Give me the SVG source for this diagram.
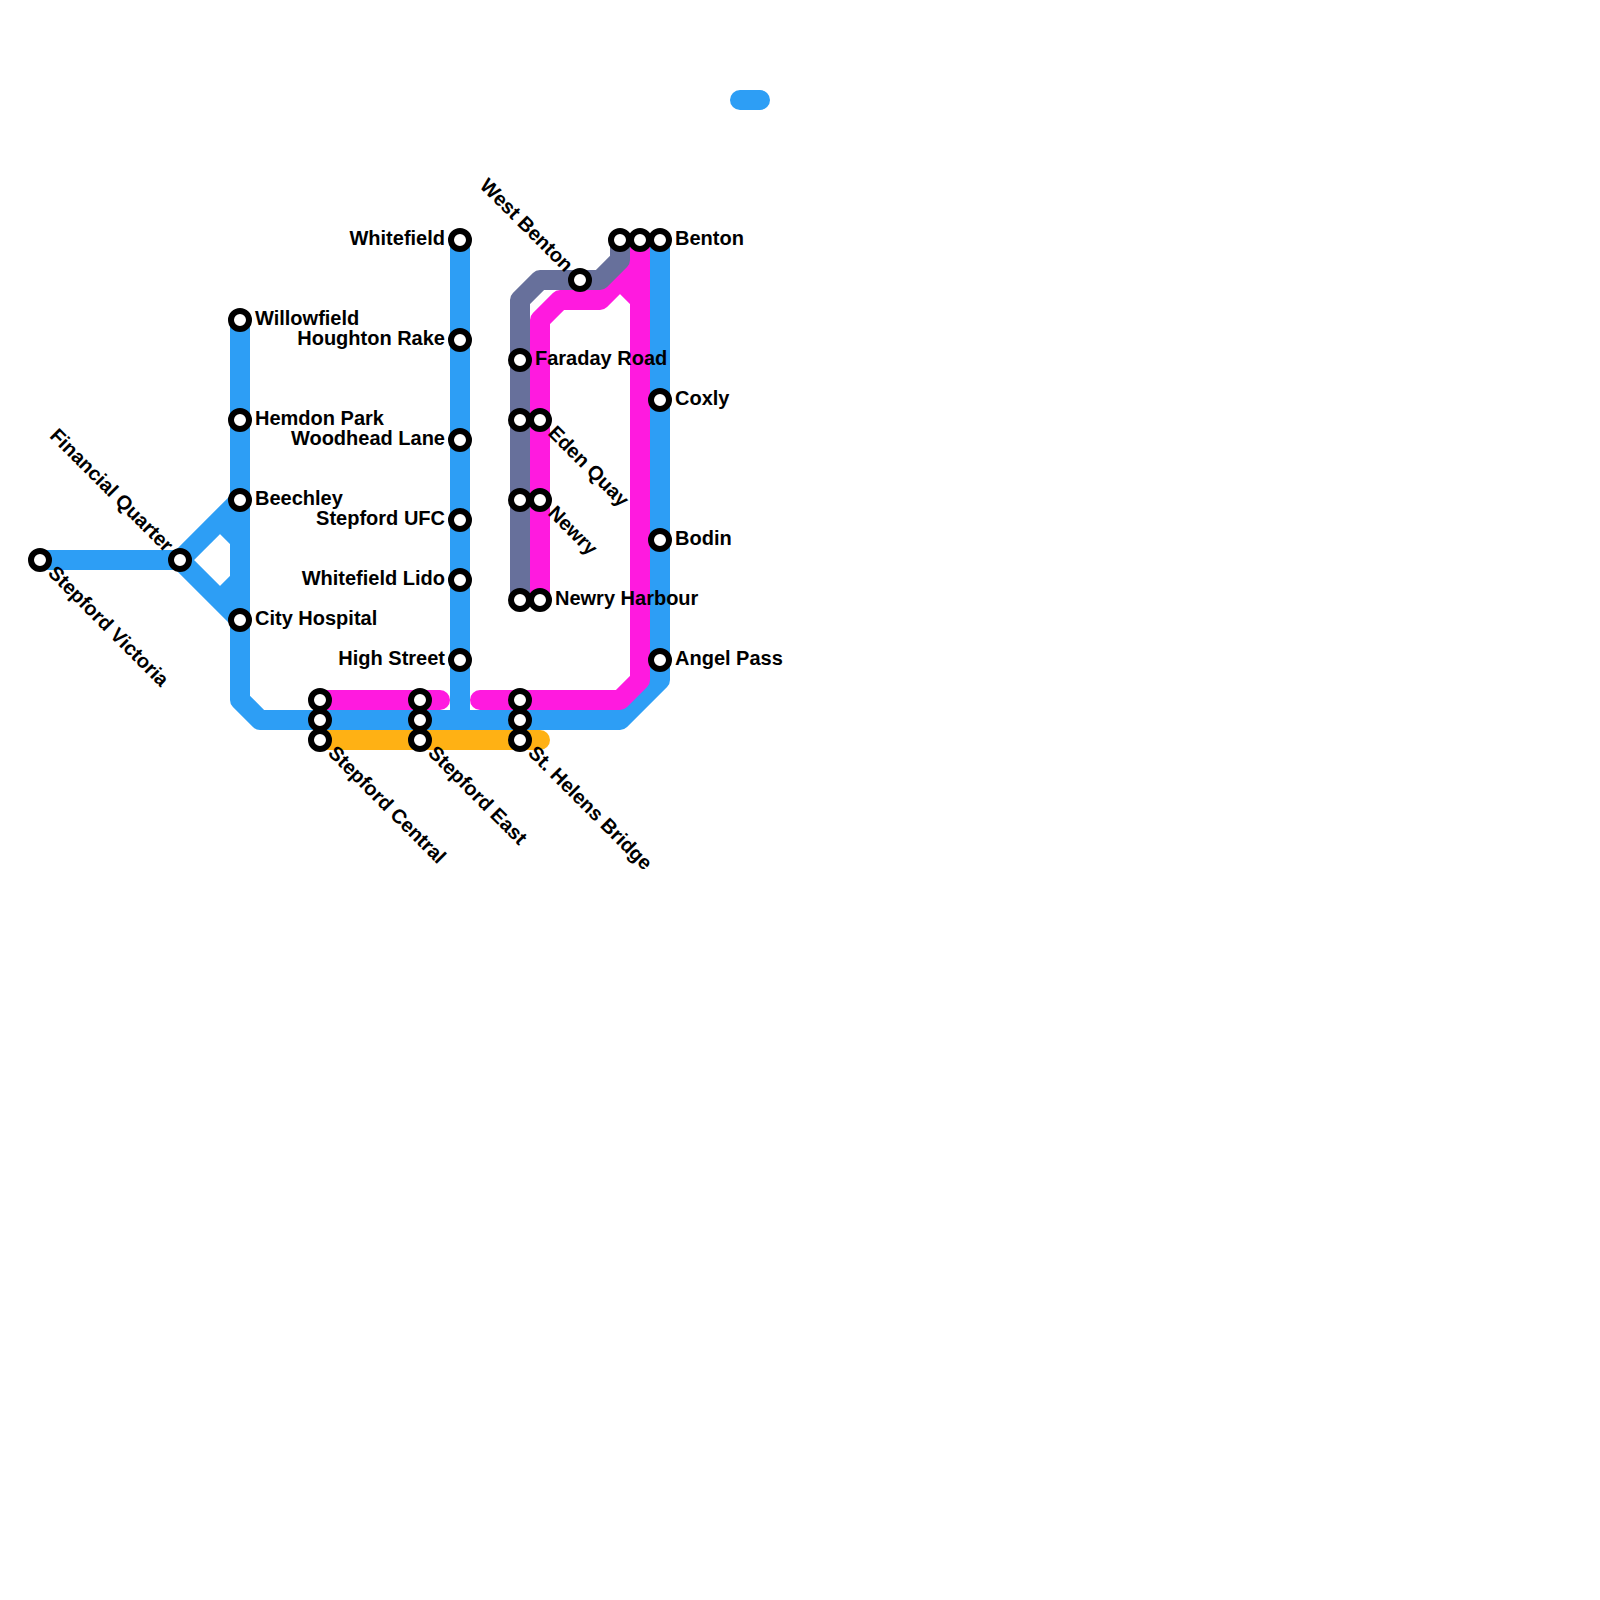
<svg xmlns="http://www.w3.org/2000/svg" width="1600" height="1600" viewBox="0 0 1600 1600">
<style>
.l{fill:none;stroke-width:20;stroke-linecap:round;stroke-linejoin:round}
.b{stroke:#2d9ef5}.m{stroke:#ff1adf}.g{stroke:#67709b}.a{stroke:#ffb114}
.s circle{fill:#fff;stroke:#000;stroke-width:6}
text{font-family:"Liberation Sans",Arial,sans-serif;font-weight:bold;font-size:20px;fill:#000}
.e{text-anchor:end}
</style>
<rect width="1600" height="1600" fill="#fff"/>
<g id="connectors">
<path class="l a" d="M320 740H540"/>
<path class="l b" d="M740 100H760"/>
<path class="l b" d="M460 240V720"/>
<path class="l b" d="M40 560H180L240 500M220 520L240 540M180 560L240 620M220 600L240 580M240 320V700L260 720H620L660 680V240"/>
<path class="l m" d="M320 700H440M480 700H620L640 680V240M540 600V320L560 300H600L640 260M620 280L640 300"/>
<path class="l g" d="M620 240V260L600 280H540L520 300V600"/>
</g>
<g id="stepford-victoria" class="s"><circle cx="40" cy="560" r="9"/><text transform="translate(47 574) rotate(45)">Stepford Victoria</text></g>
<g id="financial-quarter" class="s"><circle cx="180" cy="560" r="9"/><text class="e" transform="translate(165 553) rotate(45)">Financial Quarter</text></g>
<g id="willowfield" class="s"><circle cx="240" cy="320" r="9"/><text x="255" y="325">Willowfield</text></g>
<g id="hemdon-park" class="s"><circle cx="240" cy="420" r="9"/><text x="255" y="425">Hemdon Park</text></g>
<g id="beechley" class="s"><circle cx="240" cy="500" r="9"/><text x="255" y="505">Beechley</text></g>
<g id="city-hospital" class="s"><circle cx="240" cy="620" r="9"/><text x="255" y="625">City Hospital</text></g>
<g id="whitefield" class="s"><circle cx="460" cy="240" r="9"/><text class="e" x="445" y="245">Whitefield</text></g>
<g id="houghton-rake" class="s"><circle cx="460" cy="340" r="9"/><text class="e" x="445" y="345">Houghton Rake</text></g>
<g id="woodhead-lane" class="s"><circle cx="460" cy="440" r="9"/><text class="e" x="445" y="445">Woodhead Lane</text></g>
<g id="stepford-ufc" class="s"><circle cx="460" cy="520" r="9"/><text class="e" x="445" y="525">Stepford UFC</text></g>
<g id="whitefield-lido" class="s"><circle cx="460" cy="580" r="9"/><text class="e" x="445" y="585">Whitefield Lido</text></g>
<g id="high-street" class="s"><circle cx="460" cy="660" r="9"/><text class="e" x="445" y="665">High Street</text></g>
<g id="stepford-central" class="s"><circle cx="320" cy="700" r="9"/><circle cx="320" cy="720" r="9"/><circle cx="320" cy="740" r="9"/><text transform="translate(327 754) rotate(45)">Stepford Central</text></g>
<g id="stepford-east" class="s"><circle cx="420" cy="700" r="9"/><circle cx="420" cy="720" r="9"/><circle cx="420" cy="740" r="9"/><text transform="translate(427 754) rotate(45)">Stepford East</text></g>
<g id="st-helens-bridge" class="s"><circle cx="520" cy="700" r="9"/><circle cx="520" cy="720" r="9"/><circle cx="520" cy="740" r="9"/><text transform="translate(527 754) rotate(45)">St. Helens Bridge</text></g>
<g id="faraday-road" class="s"><circle cx="520" cy="360" r="9"/><text x="535" y="365">Faraday Road</text></g>
<g id="eden-quay" class="s"><circle cx="520" cy="420" r="9"/><circle cx="540" cy="420" r="9"/><text transform="translate(547 434) rotate(45)">Eden Quay</text></g>
<g id="newry" class="s"><circle cx="520" cy="500" r="9"/><circle cx="540" cy="500" r="9"/><text transform="translate(547 514) rotate(45)">Newry</text></g>
<g id="newry-harbour" class="s"><circle cx="520" cy="600" r="9"/><circle cx="540" cy="600" r="9"/><text x="555" y="605">Newry Harbour</text></g>
<g id="west-benton" class="s"><circle cx="580" cy="280" r="9"/><text class="e" transform="translate(565 273) rotate(45)">West Benton</text></g>
<g id="benton" class="s"><circle cx="620" cy="240" r="9"/><circle cx="640" cy="240" r="9"/><circle cx="660" cy="240" r="9"/><text x="675" y="245">Benton</text></g>
<g id="coxly" class="s"><circle cx="660" cy="400" r="9"/><text x="675" y="405">Coxly</text></g>
<g id="bodin" class="s"><circle cx="660" cy="540" r="9"/><text x="675" y="545">Bodin</text></g>
<g id="angel-pass" class="s"><circle cx="660" cy="660" r="9"/><text x="675" y="665">Angel Pass</text></g>
</svg>
